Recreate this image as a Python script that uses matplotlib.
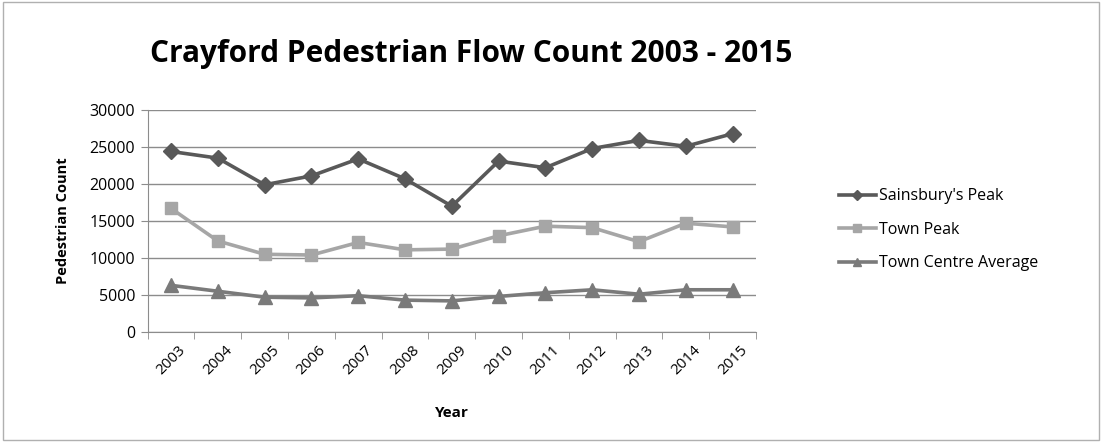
import matplotlib.pyplot as plt
import numpy as np
from matplotlib.patches import Rectangle

years = ["2003", "2004", "2005", "2006", "2007", "2008", "2009",
         "2010", "2011", "2012", "2013", "2014", "2015"]
sainsburys_peak = [24400, 23500, 19900, 21100, 23400, 20700, 17000,
                   23100, 22200, 24800, 25900, 25100, 26800]
town_peak = [16700, 12300, 10500, 10400, 12100, 11100, 11200,
             13000, 14300, 14100, 12200, 14700, 14200]
town_centre_avg = [6300, 5500, 4700, 4600, 4900, 4300, 4200,
                   4800, 5300, 5700, 5100, 5700, 5700]

plt.rcParams['font.family'] = ['Open Sans', 'DejaVu Sans']

fig = plt.figure(figsize=(11.02, 4.42), dpi=100)
ax = fig.add_axes([0.134, 0.249, 0.552, 0.502])

x = np.arange(len(years))
ax.plot(x, sainsburys_peak, color='#595959', lw=2.6, marker='D', ms=8,
        label="Sainsbury's Peak")
ax.plot(x, town_peak, color='#a6a6a6', lw=2.6, marker='s', ms=9,
        label="Town Peak")
ax.plot(x, town_centre_avg, color='#7a7a7a', lw=2.6, marker='^', ms=10,
        label="Town Centre Average")

ax.set_xlim(-0.5, len(years) - 0.5)
ax.set_ylim(0, 30000)
ax.set_yticks(np.arange(0, 30001, 5000))
ax.yaxis.grid(True, color='#8c8c8c', lw=1)
ax.set_axisbelow(True)

ax.set_xticks(x)
ax.set_xticklabels(years, rotation=45, fontsize=11, ha='center')
ax.set_xticks(np.arange(-0.5, len(years)), minor=True)
ax.tick_params(axis='x', which='major', length=0, pad=8)
ax.tick_params(axis='x', which='minor', length=5, color='#8c8c8c')
ax.tick_params(axis='y', length=5, color='#8c8c8c', labelsize=11.5, pad=4)

for s in ['top', 'right']:
    ax.spines[s].set_visible(False)
ax.spines['left'].set_color('#8c8c8c')
ax.spines['bottom'].set_color('#8c8c8c')

ax.set_xlabel("Year", fontsize=11, fontweight='bold', labelpad=20)
ax.set_ylabel("Pedestrian Count", fontsize=10.5, fontweight='bold', labelpad=14)

fig.text(0.136, 0.878, "Crayford Pedestrian Flow Count 2003 - 2015",
         fontsize=21.5, fontweight='bold', va='center', ha='left')

ax.legend(loc='center left', bbox_to_anchor=(1.113, 0.46), frameon=False,
          fontsize=11.5, handlelength=2.3, labelspacing=1.1, handletextpad=0.2,
          markerscale=0.6)

fig.patches.append(Rectangle((0.003, 0.005), 0.994, 0.99, transform=fig.transFigure,
                             fill=False, edgecolor='#b0b0b0', lw=1))

plt.savefig('out.png', dpi=100)
